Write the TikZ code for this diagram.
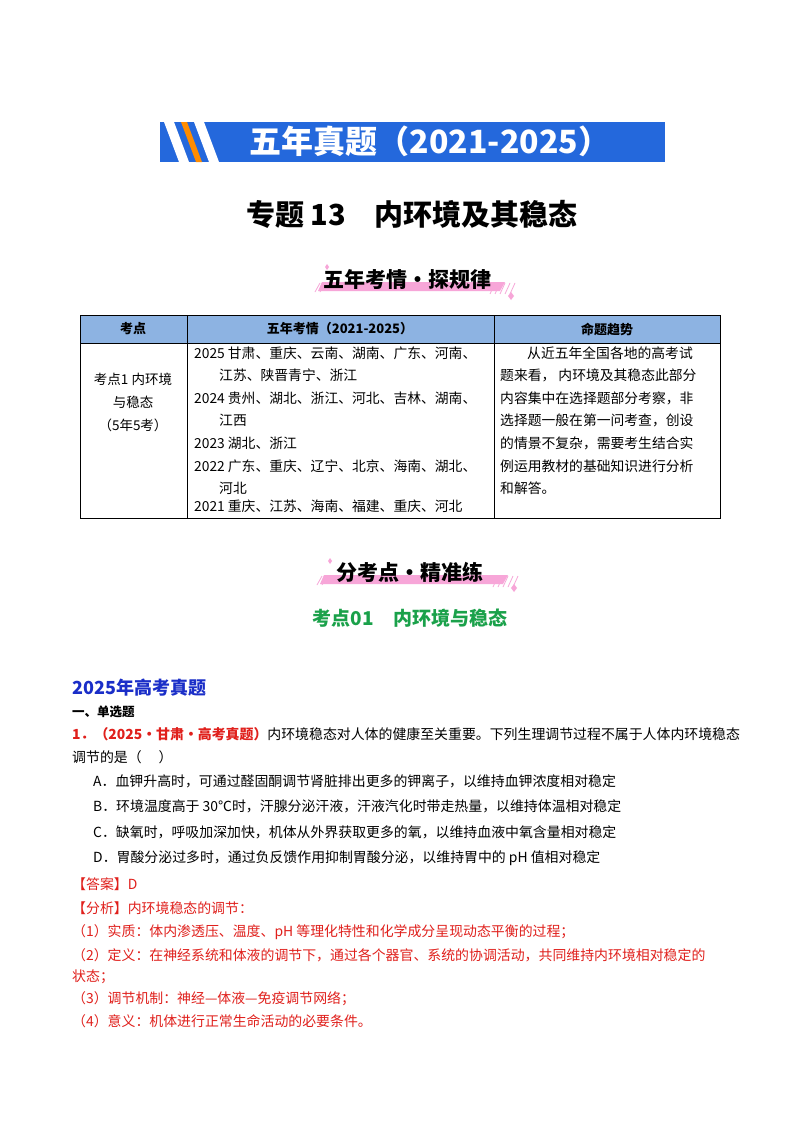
\documentclass[tikz,border=0pt]{standalone}
\usepackage{fontspec}
\setmainfont{Noto Sans CJK SC}
\definecolor{bannerblue}{HTML}{2468DC}
\definecolor{hdrblue}{HTML}{8DB3E2}
\definecolor{ansred}{HTML}{E0201C}
\definecolor{kgreen}{HTML}{1AA14A}
\definecolor{tblue}{HTML}{1A2EC8}
\definecolor{rpink}{HTML}{F7A6D8}
\tikzset{
  txt/.style={anchor=west,inner sep=0pt,font=\fontsize{13.9}{15}\selectfont},
  tbl/.style={anchor=west,inner sep=0pt,font=\fontsize{13.8}{15}\selectfont},
  tc/.style={inner sep=0pt,font=\fontsize{13.5}{15}\selectfont},
  red/.style={txt,text=ansred},
}
\begin{document}
\begin{tikzpicture}[x=1pt,y=-1pt]
\useasboundingbox (0,0) rectangle (800,1132);
\fill[white] (0,0) rectangle (800,1132);
% banner
\fill[bannerblue] (160,122) rectangle (665,162);
\fill[white] (164,122) -- (174,122) -- (189,162) -- (179,162) -- cycle;
\fill[orange!90!yellow] (181,122) -- (187,122) -- (202,162) -- (196,162) -- cycle;
\fill[white] (194,122) -- (204,122) -- (219,162) -- (209,162) -- cycle;
\node[inner sep=0pt,text=white,font=\fontsize{32}{36}\selectfont\bfseries] (banner) at (430,141) {五年真题（2021-2025）};
% title
\node[inner sep=0pt,font=\fontsize{29}{32}\selectfont\bfseries] (title) at (412,214) {专题 13\quad 内环境及其稳态};
% ribbon 1
\fill[rpink] (322,282) -- (505,282) -- (500,291) -- (318,291) -- cycle;
\foreach \xx in {490,495,500,505,510}{\draw[rpink,line width=0.8pt] (\xx,294) -- (\xx+5,283);}
\foreach \xx in {315,320}{\draw[rpink,line width=0.8pt] (\xx,292) -- (\xx+5,283);}
\fill[rpink] (327,264) -- (329,267) -- (327,270) -- (325,267) -- cycle;
\fill[rpink] (511,292) -- (514,296) -- (511,300) -- (508,296) -- cycle;
\node[inner sep=0pt,font=\fontsize{21}{24}\selectfont\bfseries] (rib1) at (407,279) {五年考情·探规律};
% table
\fill[hdrblue] (80,315) rectangle (720,343);
\draw[line width=0.6pt] (80,315) rectangle (720,518);
\draw[line width=0.6pt] (80,343) -- (720,343);
\draw[line width=0.6pt] (187,315) -- (187,518);
\draw[line width=0.6pt] (494,315) -- (494,518);
\node[tc,font=\fontsize{13}{15}\selectfont\bfseries] (h1) at (133,329) {考点};
\node[tc,font=\fontsize{13}{15}\selectfont\bfseries] (h2) at (340,329) {五年考情（2021-2025）};
\node[tc,font=\fontsize{13}{15}\selectfont\bfseries] (h3) at (607,329) {命题趋势};
\node[tc] (c1a) at (133,379) {考点1 内环境};
\node[tc] (c1b) at (133,402) {与稳态};
\node[tc] (c1c) at (133,425) {（5年5考）};
\node[tbl] (r1) at (194,353) {2025 甘肃、重庆、云南、湖南、广东、河南、};
\node[tbl] (r2) at (219,375) {江苏、陕晋青宁、浙江};
\node[tbl] (r3) at (194,398) {2024 贵州、湖北、浙江、河北、吉林、湖南、};
\node[tbl] (r4) at (219,420) {江西};
\node[tbl] (r5) at (194,443) {2023 湖北、浙江};
\node[tbl] (r6) at (194,466) {2022 广东、重庆、辽宁、北京、海南、湖北、};
\node[tbl] (r7) at (219,488) {河北};
\node[tbl] (r8) at (194,506) {2021 重庆、江苏、海南、福建、重庆、河北};
\node[tbl] (t1) at (527,353) {从近五年全国各地的高考试};
\node[tbl] (t2) at (500,375) {题来看， 内环境及其稳态此部分};
\node[tbl] (t3) at (500,398) {内容集中在选择题部分考察，非};
\node[tbl] (t4) at (500,420) {选择题一般在第一问考查，创设};
\node[tbl] (t5) at (500,443) {的情景不复杂，需要考生结合实};
\node[tbl] (t6) at (500,466) {例运用教材的基础知识进行分析};
\node[tbl] (t7) at (500,488) {和解答。};
% ribbon 2
\fill[rpink] (324,575) -- (508,575) -- (503,584) -- (320,584) -- cycle;
\foreach \xx in {493,498,503,508,513}{\draw[rpink,line width=0.8pt] (\xx,587) -- (\xx+5,576);}
\foreach \xx in {317,322}{\draw[rpink,line width=0.8pt] (\xx,585) -- (\xx+5,576);}
\fill[rpink] (330,558) -- (332,561) -- (330,564) -- (328,561) -- cycle;
\fill[rpink] (514,584) -- (517,588) -- (514,592) -- (511,588) -- cycle;
\node[inner sep=0pt,font=\fontsize{21}{24}\selectfont\bfseries] (rib2) at (410,572) {分考点·精准练};
\node[inner sep=0pt,text=kgreen,font=\fontsize{19}{22}\selectfont\bfseries] (kd) at (410,618) {考点01\quad 内环境与稳态};
% question
\node[anchor=west,inner sep=0pt,text=tblue,font=\fontsize{18}{21}\selectfont\bfseries] (yr) at (72,688) {2025年高考真题};
\node[anchor=west,inner sep=0pt,font=\fontsize{12.5}{14}\selectfont\bfseries] (dx) at (72,712) {一、单选题};
\node[txt] (q1) at (72,734) {\textcolor{ansred}{\bfseries 1．（2025·甘肃·高考真题）}内环境稳态对人体的健康至关重要。下列生理调节过程不属于人体内环境稳态};
\node[txt] (q2) at (72,757) {调节的是（\quad\ ）};
\node[txt] (oa) at (93,781) {A．血钾升高时，可通过醛固酮调节肾脏排出更多的钾离子，以维持血钾浓度相对稳定};
\node[txt] (ob) at (93,806) {B．环境温度高于 30℃时，汗腺分泌汗液，汗液汽化时带走热量，以维持体温相对稳定};
\node[txt] (oc) at (93,832) {C．缺氧时，呼吸加深加快，机体从外界获取更多的氧，以维持血液中氧含量相对稳定};
\node[txt] (od) at (93,858) {D．胃酸分泌过多时，通过负反馈作用抑制胃酸分泌，以维持胃中的 pH 值相对稳定};
\node[red] (an) at (72,884) {【答案】D};
\node[red] (fx) at (72,908) {【分析】内环境稳态的调节：};
\node[red] (p1) at (72,932) {（1）实质：体内渗透压、温度、pH 等理化特性和化学成分呈现动态平衡的过程；};
\node[red] (p2) at (72,955) {（2）定义：在神经系统和体液的调节下，通过各个器官、系统的协调活动，共同维持内环境相对稳定的};
\node[red] (p2b) at (72,977) {状态；};
\node[red] (p3) at (72,999) {（3）调节机制：神经—体液—免疫调节网络；};
\node[red] (p4) at (72,1021) {（4）意义：机体进行正常生命活动的必要条件。};
\end{tikzpicture}
\end{document}
